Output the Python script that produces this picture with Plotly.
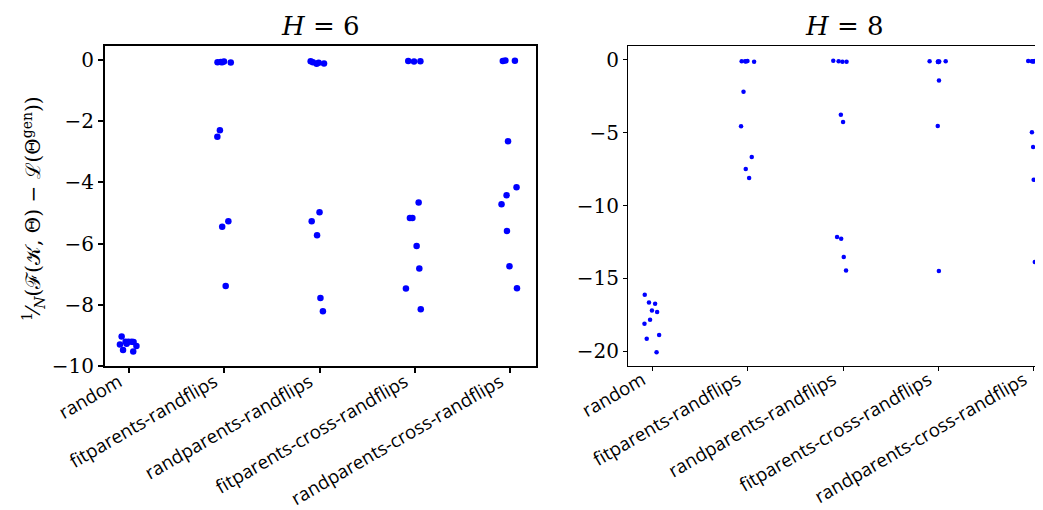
import plotly.graph_objects as go

categories = ["random", "fitparents-randflips", "randparents-randflips",
              "fitparents-cross-randflips", "randparents-cross-randflips"]

# H = 6 panel values (10 runs per category)
h6_random = [-9.04, -9.21, -9.21, -9.21, -9.27, -9.30, -9.35, -9.48, -9.53, -9.22]
h6_fit = [-0.06, -0.07, -0.08, -0.08, -0.09, -2.30, -2.51, -5.27, -5.45, -7.39]
h6_rand = [-0.05, -0.08, -0.10, -0.12, -0.13, -4.98, -5.27, -5.73, -7.78, -8.21]
h6_fitcross = [-0.04, -0.05, -0.06, -4.66, -5.17, -5.17, -6.08, -6.82, -7.47, -8.15]
h6_randcross = [-0.02, -0.03, -0.04, -2.66, -4.16, -4.42, -4.72, -5.59, -6.74, -7.46]

# H = 8 panel values
h8_random = [-16.11, -16.64, -16.73, -17.19, -17.30, -17.83, -18.10, -18.88, -19.13, -20.05]
h8_fit = [-0.08, -0.10, -0.11, -0.12, -0.14, -2.19, -4.57, -6.67, -7.50, -8.11]
h8_rand = [-0.07, -0.10, -0.14, -0.14, -3.77, -4.27, -12.16, -12.27, -13.53, -14.45]
h8_fitcross = [-0.10, -0.11, -0.12, -0.13, -0.14, -0.15, -0.16, -1.42, -4.55, -14.49]
h8_randcross = [-0.08, -0.09, -0.10, -0.10, -0.11, -0.12, -4.98, -5.99, -8.23, -13.87]

h6_ticks = [0, -2, -4, -6, -8, -10]
h8_ticks = [0, -5, -10, -15, -20]

h6_series = [h6_random, h6_fit, h6_rand, h6_fitcross, h6_randcross]
h8_series = [h8_random, h8_fit, h8_rand, h8_fitcross, h8_randcross]


def flatten(series):
    xs, ys = [], []
    for cat, vals in zip(categories, series):
        xs += [cat] * len(vals)
        ys += vals
    return xs, ys


W, H = 1043, 510
SERIF = "DejaVu Serif"
fig = go.Figure()

for series, xa, ya, msize in [(h6_series, "x", "y", 6.5), (h8_series, "x2", "y2", 4.5)]:
    xs, ys = flatten(series)
    fig.add_trace(go.Box(
        x=xs, y=ys, xaxis=xa, yaxis=ya,
        boxpoints="all", jitter=0.45, pointpos=0,
        line=dict(width=0, color="rgba(0,0,0,0)"),
        fillcolor="rgba(0,0,0,0)",
        marker=dict(color="#0000ff", size=msize, line=dict(width=0)),
        showlegend=False, hoverinfo="y",
    ))

cat_font = dict(family="Open Sans", size=18.6, color="black")
tick_font = dict(family=SERIF, size=20, color="black")

common_x = dict(type="category", categoryorder="array", categoryarray=categories,
                tickangle=-30, ticks="outside", showgrid=False, zeroline=False,
                mirror=True, linecolor="black", tickcolor="black",
                tickfont=cat_font, automargin=False, ticklabelshift=-10,
                ticklabelstandoff=-9)
common_y = dict(ticks="outside", showgrid=False, zeroline=False, mirror=True,
                linecolor="black", tickcolor="black", automargin=False,
                tickfont=tick_font)

ydom = [1 - 358 / H, 1 - 38 / H]
fig.update_layout(
    width=W, height=H,
    margin=dict(l=0, r=0, t=0, b=0),
    paper_bgcolor="white", plot_bgcolor="white",
    xaxis=dict(common_x, domain=[97 / W, 528 / W], range=[-0.25, 4.27],
               linewidth=2, tickwidth=1.6, ticklen=5, anchor="y"),
    yaxis=dict(common_y, domain=ydom, range=[-10, 0.45], tickvals=h6_ticks,
               linewidth=2, tickwidth=1.6, ticklen=5, anchor="x"),
    xaxis2=dict(common_x, domain=[620 / W, 1.0], range=[-0.255, 4.18],
                linewidth=1, tickwidth=1, ticklen=4, anchor="y2"),
    yaxis2=dict(common_y, domain=ydom, range=[-21.0, 0.94], tickvals=h8_ticks,
                linewidth=1, tickwidth=1, ticklen=4, anchor="x2"),
    annotations=[
        dict(text="<i>H</i> = 6", x=312.5 / W, y=1 - 18 / H, xref="paper", yref="paper",
             showarrow=False, xanchor="center", yanchor="middle",
             font=dict(family=SERIF, size=26, color="black")),
        dict(text="<i>H</i> = 8", x=836 / W, y=1 - 18 / H, xref="paper", yref="paper",
             showarrow=False, xanchor="center", yanchor="middle",
             font=dict(family=SERIF, size=26, color="black")),
        dict(text="<sup>1</sup>⁄<sub><i>N</i></sub>(ℱ(𝒦, Θ) − ℒ(Θ<sup>gen</sup>))",
             x=26 / W, y=1 - 201 / H, xref="paper", yref="paper",
             showarrow=False, xanchor="center", yanchor="middle", textangle=-90,
             font=dict(family=SERIF, size=20, color="black")),
    ],
)

fig.write_html("out.html")
